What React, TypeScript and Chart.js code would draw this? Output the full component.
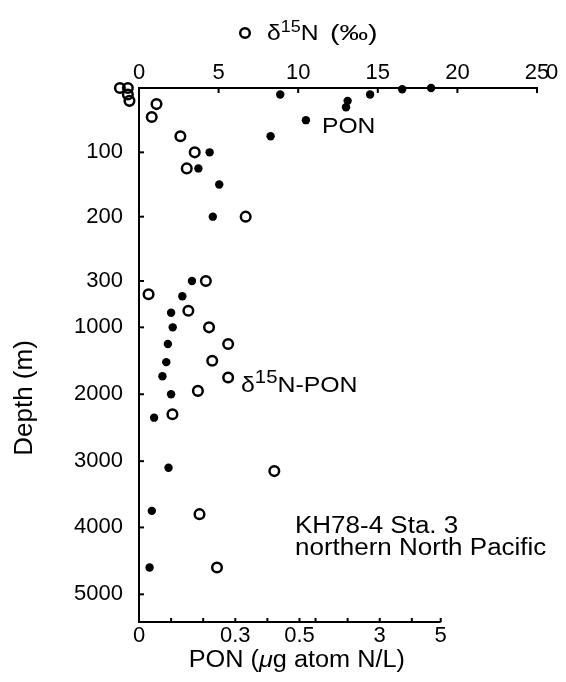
import React, { useEffect, useRef } from 'react';
import { Chart, registerables } from 'chart.js';

Chart.register(...registerables);

// ---- Data ----
// δ15N of PON (‰), open circles, top axis
const d15nValues = [-1.2, -0.7, -0.7, -0.6, 1.1, 0.8, 2.6, 3.5, 3.0, 6.7, 4.2, 0.6, 3.1, 4.4, 5.6, 4.6, 5.6, 3.7, 2.1, 8.5, 3.8, 4.9];
const d15nDepths = [0, 0, 10, 20, 25, 45, 75, 100, 125, 200, 300, 500, 750, 1000, 1250, 1500, 1750, 1950, 2300, 3150, 3800, 4600];

// PON (µg atom N/L), filled dots, bottom axis
const ponValues = [0.91, 0.82, 0.72, 0.44, 0.65, 0.645, 0.52, 0.41, 0.22, 0.185, 0.25, 0.23, 0.165, 0.135, 0.1, 0.105, 0.09, 0.085, 0.073, 0.1, 0.047, 0.092, 0.04, 0.033];
const ponDepths = [0, 2, 10, 10, 20, 30, 50, 75, 100, 125, 150, 200, 300, 530, 780, 1000, 1250, 1520, 1730, 2000, 2350, 3100, 3750, 4600];

// Depth axis (broken scale): depth breakpoints and their axis coordinates
const depthBreaks = [0, 100, 200, 300, 1000, 2000, 3000, 4000, 5000];
const depthBreakPos = [0, 1, 2, 3, 3.72, 4.76, 5.8, 6.83, 7.87];
const depthAxisMax = 8.3;
const depthTicks = [100, 200, 300, 1000, 2000, 3000, 4000, 5000];

// Top axis δ15N ticks
const d15nTicks = [0, 5, 10, 15, 20, 25];
const d15nMin = 0;
const d15nMax = 25;

// Bottom axis PON ticks (as printed)
const ponTickValues = [0, 0.1, 0.2, 0.3, 0.4, 0.5, 0.55, 0.65, 0.75, 0.85, 0.94];
const ponTickLabels = ['0', '', '', '0.3', '', '0.5', '', '', '3', '', '5'];
const ponAxisMax = 1.24;

const FONT = "'Liberation Sans', Arial, Helvetica, sans-serif";

function depthToAxis(d: number): number {
  for (let i = 1; i < depthBreaks.length; i++) {
    if (d <= depthBreaks[i] || i === depthBreaks.length - 1) {
      const d0 = depthBreaks[i - 1], d1 = depthBreaks[i];
      const p0 = depthBreakPos[i - 1], p1 = depthBreakPos[i];
      return p0 + ((d - d0) / (d1 - d0)) * (p1 - p0);
    }
  }
  return 0;
}

type Run = { t: string; size: number; dy?: number; italic?: boolean };

function drawRuns(
  ctx: CanvasRenderingContext2D,
  runs: Run[],
  x: number,
  y: number,
  sx: number,
  align: 'left' | 'center',
  rotate = 0
) {
  ctx.save();
  ctx.translate(x, y);
  if (rotate) ctx.rotate(rotate);
  ctx.scale(sx, 1);
  ctx.textAlign = 'left';
  ctx.textBaseline = 'alphabetic';
  const fontOf = (r: Run) => `${r.italic ? 'italic ' : ''}${r.size}px ${FONT}`;
  let total = 0;
  const widths = runs.map((r) => {
    ctx.font = fontOf(r);
    const w = ctx.measureText(r.t).width;
    total += w;
    return w;
  });
  let cx = align === 'center' ? -total / 2 : 0;
  runs.forEach((r, i) => {
    ctx.font = fontOf(r);
    ctx.fillText(r.t, cx, -(r.dy || 0));
    cx += widths[i];
  });
  ctx.restore();
}

// Chart.js culls points outside the chart area; draw those elements too.
const outsidePoints = {
  id: 'outsidePoints',
  afterDatasetsDraw(chart: any) {
    const ca = chart.chartArea;
    const ctx = chart.ctx;
    chart.data.datasets.forEach((_ds: any, di: number) => {
      const meta = chart.getDatasetMeta(di);
      meta.data.forEach((el: any) => {
        const m = 6;
        const inside =
          el.x > ca.left - m && el.x < ca.right + m && el.y > ca.top - m && el.y < ca.bottom + m;
        if (!inside) el.draw(ctx, undefined);
      });
    });
  },
};

const annotations = {
  id: 'annotations',
  afterDraw(chart: any) {
    const { ctx, chartArea: ca, scales } = chart;
    const xT = scales.xTop;
    const xB = scales.xBottom;
    const y = scales.y;
    ctx.save();
    ctx.strokeStyle = '#000';
    ctx.fillStyle = '#000';
    ctx.lineWidth = 2;

    // bottom axis line (only over printed range)
    const bEnd = xB.getPixelForValue(ponTickValues[ponTickValues.length - 1]);
    ctx.beginPath();
    ctx.moveTo(ca.left - 1, ca.bottom);
    ctx.lineTo(bEnd, ca.bottom);
    ctx.stroke();
    // bottom inside ticks
    ponTickValues.forEach((v) => {
      const px = xB.getPixelForValue(v);
      ctx.beginPath();
      ctx.moveTo(px, ca.bottom);
      ctx.lineTo(px, ca.bottom - 4);
      ctx.stroke();
    });
    // top inside ticks
    d15nTicks.forEach((v) => {
      if (v === d15nMin) return;
      const px = xT.getPixelForValue(v);
      ctx.beginPath();
      ctx.moveTo(px, ca.top);
      ctx.lineTo(px, ca.top + 5);
      ctx.stroke();
    });
    // left inside ticks
    depthTicks.forEach((d) => {
      const py = y.getPixelForValue(depthToAxis(d));
      ctx.beginPath();
      ctx.moveTo(ca.left, py);
      ctx.lineTo(ca.left + 5, py);
      ctx.stroke();
    });

    // stray "0" after 25 on top axis
    ctx.font = `22px ${FONT}`;
    ctx.textAlign = 'center';
    ctx.textBaseline = 'middle';
    ctx.fillText('0', xT.getPixelForValue(d15nMax) + 15, ca.top - 15);

    // header legend: ○ δ15N (‰)
    ctx.lineWidth = 2.5;
    ctx.beginPath();
    ctx.arc(ca.left + 106, 33, 4.8, 0, Math.PI * 2);
    ctx.stroke();
    drawRuns(
      ctx,
      [
        { t: 'δ', size: 22 },
        { t: '15', size: 16, dy: 8 },
        { t: 'N', size: 22 },
      ],
      ca.left + 128,
      40,
      1.12,
      'left'
    );
    drawRuns(ctx, [{ t: '(‰)', size: 22 }], ca.left + 191, 40, 1.3, 'left');

    // PON label
    drawRuns(ctx, [{ t: 'PON', size: 22 }], ca.left + 183, 133, 1.12, 'left');

    // δ15N-PON label
    drawRuns(
      ctx,
      [
        { t: 'δ', size: 22 },
        { t: '15', size: 18, dy: 9 },
        { t: 'N-PON', size: 22 },
      ],
      ca.left + 102,
      392,
      1.13,
      'left'
    );

    // station text
    drawRuns(ctx, [{ t: 'KH78-4 Sta. 3', size: 23 }], ca.left + 156, 533, 1.13, 'left');
    drawRuns(ctx, [{ t: 'northern North Pacific', size: 23 }], ca.left + 156, 555, 1.13, 'left');

    // bottom axis title
    const midB = (ca.left + bEnd) / 2 + 7;
    drawRuns(
      ctx,
      [
        { t: 'PON (', size: 23 },
        { t: 'μ', size: 23, italic: true },
        { t: 'g atom N/L)', size: 23 },
      ],
      midB,
      667,
      1.1,
      'center'
    );

    // left axis title
    drawRuns(ctx, [{ t: 'Depth (m)', size: 25 }], 32, 398, 1.04, 'center', -Math.PI / 2);

    ctx.restore();
  },
};

export default function App() {
  const ref = useRef<HTMLCanvasElement>(null);

  useEffect(() => {
    const canvas = ref.current;
    if (!canvas) return;
    const tickFont = { family: FONT, size: 22 };
    const chart = new Chart(canvas, {
      type: 'scatter',
      data: {
        datasets: [
          {
            label: 'PON',
            data: ponValues.map((v, i) => ({ x: v, y: depthToAxis(ponDepths[i]) })),
            xAxisID: 'xBottom',
            yAxisID: 'y',
            pointRadius: 4.2,
            pointBorderWidth: 0,
            pointBackgroundColor: '#000',
            pointBorderColor: '#000',
            clip: false as any,
          },
          {
            label: 'δ15N',
            data: d15nValues.map((v, i) => ({ x: v, y: depthToAxis(d15nDepths[i]) })),
            xAxisID: 'xTop',
            yAxisID: 'y',
            pointRadius: 4.8,
            pointBorderWidth: 2.5,
            pointBackgroundColor: 'rgba(255,255,255,0)',
            pointBorderColor: '#000',
            clip: false as any,
          },
        ],
      },
      options: {
        responsive: false,
        animation: false,
        events: [],
        layout: { padding: { left: 0, top: 0, right: 29, bottom: 0 } },
        plugins: {
          legend: { display: false },
          tooltip: { enabled: false },
        },
        scales: {
          xTop: {
            type: 'linear',
            position: 'top',
            min: d15nMin,
            max: d15nMax,
            afterBuildTicks: (s: any) => {
              s.ticks = d15nTicks.map((v) => ({ value: v }));
            },
            afterFit: (s: any) => {
              s.height = 88;
            },
            ticks: {
              autoSkip: false,
              maxRotation: 0,
              padding: 2,
              color: '#000',
              font: tickFont,
              callback: (v: any) => String(v),
            },
            grid: { display: false, drawTicks: false },
            border: { display: true, color: '#000', width: 2 },
          },
          xBottom: {
            type: 'linear',
            position: 'bottom',
            min: 0,
            max: ponAxisMax,
            afterBuildTicks: (s: any) => {
              s.ticks = ponTickValues.map((v) => ({ value: v }));
            },
            afterFit: (s: any) => {
              s.height = 60;
            },
            ticks: {
              autoSkip: false,
              maxRotation: 0,
              padding: 1,
              color: '#000',
              font: tickFont,
              callback: (_v: any, i: number) => ponTickLabels[i],
            },
            grid: { display: false, drawTicks: false },
            border: { display: false },
          },
          y: {
            type: 'linear',
            position: 'left',
            reverse: true,
            min: 0,
            max: depthAxisMax,
            afterBuildTicks: (s: any) => {
              s.ticks = depthTicks.map((d) => ({ value: depthToAxis(d) }));
            },
            afterFit: (s: any) => {
              s.width = 139;
            },
            ticks: {
              autoSkip: false,
              padding: 16,
              color: '#000',
              font: tickFont,
              callback: (_v: any, i: number) => String(depthTicks[i]),
            },
            grid: { display: false, drawTicks: false },
            border: { display: true, color: '#000', width: 2 },
          },
        },
      },
      plugins: [outsidePoints, annotations],
    } as any);
    return () => chart.destroy();
  }, []);

  return (
    <div style={{ position: 'fixed', left: 0, top: 0, width: 566, height: 682, background: '#fff' }}>
      <canvas ref={ref} width={566} height={682} style={{ display: 'block' }} />
    </div>
  );
}
